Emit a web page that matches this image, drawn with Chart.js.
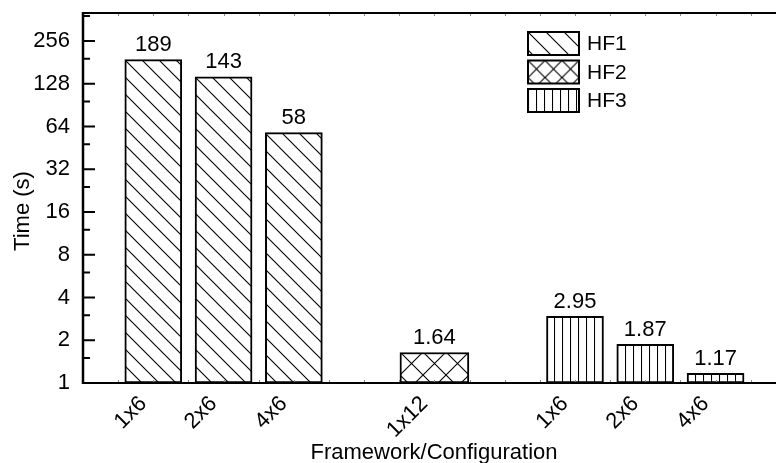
<!DOCTYPE html>
<html>
<head>
<meta charset="utf-8">
<script src="https://cdn.jsdelivr.net/npm/chart.js@4.4.1/dist/chart.umd.min.js"></script>
<style>
  html, body { margin: 0; padding: 0; background: #fff; overflow: hidden; }
  #wrap { width: 776px; height: 463px; position: relative; }
</style>
</head>
<body>
<div id="wrap"><canvas id="c" width="776" height="463"></canvas></div>
<script>
// Run times per framework / configuration (seconds)
const configurations = ['1x6', '2x6', '4x6', '1x12', '1x6', '2x6', '4x6'];
const slotPositions = [1, 2, 3, 5, 7, 8, 9];
const hf1Values = [189, 143, 58];
const hf2Values = [1.64];
const hf3Values = [2.95, 1.87, 1.17];
const seriesNames = ['HF1', 'HF2', 'HF3'];
const yTickValues = [1, 2, 4, 8, 16, 32, 64, 128, 256];
const yMinorValues = [1.5, 3, 6, 12, 24, 48, 96, 192, 384];

const FONT = '"Liberation Sans", Arial, Helvetica, sans-serif';
const canvas = document.getElementById('c');
const ctx = canvas.getContext('2d');

// Hatch fills: back diagonal, cross hatch, vertical lines
const patternCache = {};
function hatch(kind, size, ox, oy) {
  const key = [kind, size, ox.toFixed(2), oy.toFixed(2)].join('|');
  if (patternCache[key]) return patternCache[key];
  const t = document.createElement('canvas');
  t.width = t.height = size;
  const g = t.getContext('2d');
  g.fillStyle = '#fff';
  g.fillRect(0, 0, size, size);
  g.strokeStyle = '#000';
  g.lineWidth = 1.1;
  g.beginPath();
  if (kind === 'back' || kind === 'cross') {
    g.moveTo(-1, -1); g.lineTo(size + 1, size + 1);
    g.moveTo(-1, size - 1); g.lineTo(1, size + 1);
    g.moveTo(size - 1, -1); g.lineTo(size + 1, 1);
  }
  if (kind === 'cross') {
    g.moveTo(size + 1, -1); g.lineTo(-1, size + 1);
    g.moveTo(-1, 1); g.lineTo(1, -1);
    g.moveTo(size - 1, size + 1); g.lineTo(size + 1, size - 1);
  }
  if (kind === 'vert') {
    g.moveTo(0.5, 0); g.lineTo(0.5, size);
  }
  g.stroke();
  const p = ctx.createPattern(t, 'repeat');
  p.setTransform(new DOMMatrix().translate(ox, oy));
  patternCache[key] = p;
  return p;
}

const seriesStyle = [
  { kind: 'back', size: 17, thickness: 57, legendSize: 18 },
  { kind: 'cross', size: 23, thickness: 69, legendSize: 17 },
  { kind: 'vert', size: 8, thickness: 57, legendSize: 8 }
];

function barFill(si) {
  return (c) => {
    const st = seriesStyle[si];
    if (c.type !== 'data' || !c.parsed || !c.chart.scales.x) return '#fff';
    const xs = c.chart.scales.x, ys = c.chart.scales.y;
    const left = Math.round(xs.getPixelForValue(c.parsed.x) - st.thickness / 2);
    const top = Math.round(ys.getPixelForValue(c.parsed.y));
    return hatch(st.kind, st.size, left, top);
  };
}

function pts(values, offset) {
  return values.map((v, i) => ({ x: slotPositions[offset + i], y: v }));
}

const datasets = [
  { label: seriesNames[0], data: pts(hf1Values, 0) },
  { label: seriesNames[1], data: pts(hf2Values, hf1Values.length) },
  { label: seriesNames[2], data: pts(hf3Values, hf1Values.length + hf2Values.length) }
].map((d, i) => Object.assign(d, {
  backgroundColor: barFill(i),
  borderColor: '#000',
  borderWidth: 2,
  borderSkipped: false,
  barThickness: seriesStyle[i].thickness,
  grouped: false
}));

// Frame, inward ticks, axis titles, value labels and legend
const decorations = {
  id: 'decorations',
  afterDatasetsDraw(chart) {
    const g = chart.ctx;
    const a = chart.chartArea;
    const xs = chart.scales.x, ys = chart.scales.y;
    g.save();

    // value labels above bars
    g.fillStyle = '#000';
    g.font = '22px ' + FONT;
    g.textAlign = 'center';
    g.textBaseline = 'alphabetic';
    chart.data.datasets.forEach((ds, di) => {
      const meta = chart.getDatasetMeta(di);
      meta.data.forEach((bar, i) => {
        g.fillText(String(ds.data[i].y), bar.x, bar.y - 8.5);
      });
    });

    // minor ticks along top and bottom
    g.strokeStyle = '#8a8a8a';
    g.lineWidth = 1;
    g.beginPath();
    for (let v = 0.5; v < xs.max; v += 0.5) {
      const px = Math.round(xs.getPixelForValue(v)) + 0.5;
      g.moveTo(px, a.top); g.lineTo(px, a.top + 3);
      g.moveTo(px, a.bottom); g.lineTo(px, a.bottom - 3);
    }
    g.stroke();

    // y ticks pointing inward
    g.strokeStyle = '#000';
    g.lineWidth = 2;
    g.beginPath();
    yTickValues.forEach(v => {
      const py = ys.getPixelForValue(v);
      g.moveTo(a.left, py); g.lineTo(a.left + 12, py);
    });
    yMinorValues.forEach(v => {
      if (v > ys.max) return;
      const py = ys.getPixelForValue(v);
      g.moveTo(a.left, py); g.lineTo(a.left + 7, py);
    });
    g.stroke();

    // frame: top, left, bottom
    g.lineWidth = 2;
    g.beginPath();
    g.moveTo(a.left, a.top); g.lineTo(a.right, a.top);
    g.moveTo(a.left, a.bottom); g.lineTo(a.right, a.bottom);
    g.stroke();
    g.lineWidth = 2.5;
    g.beginPath();
    g.moveTo(a.left, a.top - 1); g.lineTo(a.left, a.bottom + 1);
    g.stroke();

    // axis titles
    g.fillStyle = '#000';
    g.font = '22px ' + FONT;
    g.textAlign = 'center';
    g.textBaseline = 'alphabetic';
    g.fillText('Framework/Configuration', 434, 459);
    g.save();
    g.translate(23, 211);
    g.rotate(-Math.PI / 2);
    g.textBaseline = 'middle';
    g.fillText('Time (s)', 0, 0);
    g.restore();

    // legend
    const lx = 528, lw = 51, lh = 23, tops = [32, 60.5, 89];
    g.font = '21px ' + FONT;
    g.textAlign = 'left';
    g.textBaseline = 'middle';
    seriesNames.forEach((name, i) => {
      const st = seriesStyle[i];
      g.fillStyle = hatch(st.kind, st.legendSize, lx, tops[i]);
      g.fillRect(lx, tops[i], lw, lh);
      g.strokeStyle = '#000';
      g.lineWidth = 2;
      g.strokeRect(lx, tops[i], lw, lh);
      g.fillStyle = '#000';
      g.fillText(name, lx + lw + 8, tops[i] + lh / 2 + 1);
    });

    g.restore();
  }
};

new Chart(ctx, {
  type: 'bar',
  data: { datasets },
  options: {
    responsive: false,
    animation: false,
    devicePixelRatio: 1,
    layout: { padding: { top: 13, right: 0, bottom: 0, left: 0 } },
    plugins: { legend: { display: false }, tooltip: { enabled: false } },
    scales: {
      x: {
        type: 'linear',
        offset: false,
        min: 0,
        max: 9.86,
        grid: { display: false, drawTicks: false, offset: false },
        border: { display: false },
        afterBuildTicks(scale) {
          scale.ticks = slotPositions.map(v => ({ value: v }));
        },
        afterFit(scale) {
          scale.height = 80;
          scale.paddingLeft = 0;
          scale.paddingRight = 0;
        },
        ticks: {
          autoSkip: false,
          minRotation: 45,
          maxRotation: 45,
          padding: 8,
          labelOffset: -10,
          color: '#000',
          font: { family: FONT, size: 22 },
          callback(value) {
            const i = slotPositions.indexOf(value);
            return i >= 0 ? configurations[i] : '';
          }
        }
      },
      y: {
        type: 'logarithmic',
        min: 1,
        max: 403,
        grid: { display: false, drawTicks: false },
        border: { display: false },
        afterBuildTicks(scale) {
          scale.ticks = yTickValues.map(v => ({ value: v, major: false }));
        },
        afterFit(scale) {
          scale.width = 83;
          scale.paddingTop = 0;
          scale.paddingBottom = 0;
        },
        ticks: {
          padding: 13,
          color: '#000',
          font: { family: FONT, size: 22 },
          callback(value) { return String(value); }
        }
      }
    }
  },
  plugins: [decorations]
});
</script>
</body>
</html>
